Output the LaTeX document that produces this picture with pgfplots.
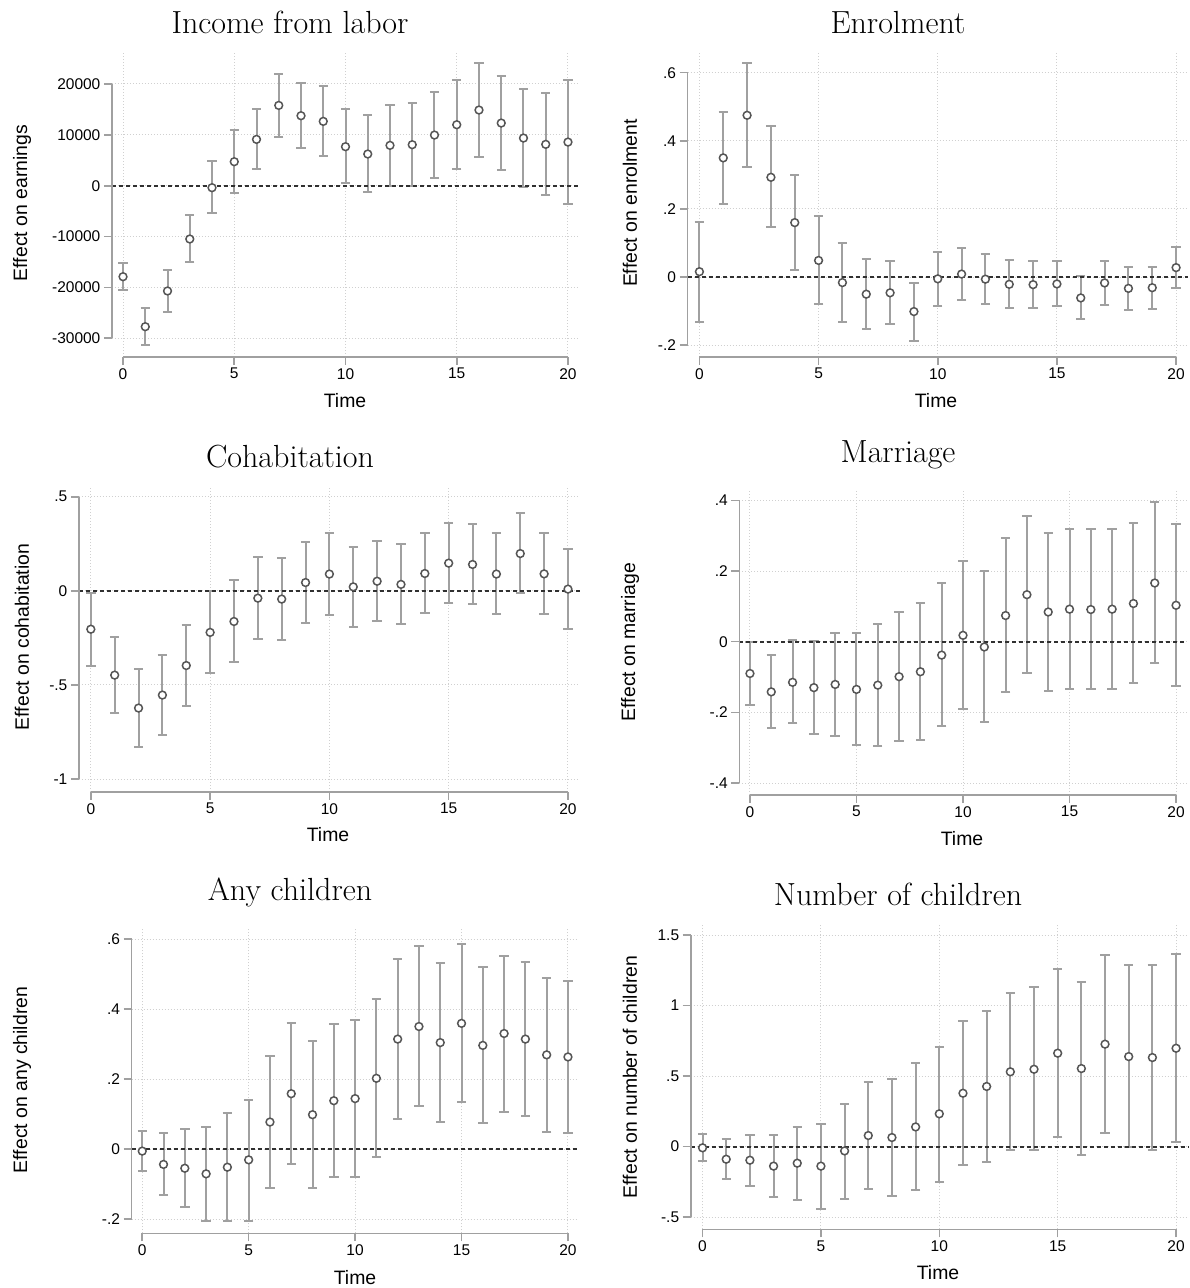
\documentclass[border=0pt]{standalone}
\usepackage{pgfplots}
\pgfplotsset{compat=1.18}
\usepackage{pgfplotstable}
\usepackage{fontspec}
\newfontfamily\sansf{Liberation Sans}
\definecolor{barc}{HTML}{A0A0A0}
\definecolor{mkc}{HTML}{555555}
\definecolor{axc}{HTML}{A0A0A0}
\definecolor{gridc}{HTML}{D0D0D0}
\definecolor{zc}{HTML}{303030}

\pgfplotstableread{
t b lo hi
0 -17890 -20450 -15200
1 -27720 -31320 -24100
2 -20700 -24900 -16500
3 -10480 -15070 -5700
4 -390 -5440 4780
5 4720 -1500 10940
6 9110 3340 15010
7 15790 9630 21950
8 13760 7340 20250
9 12650 5830 19590
10 7670 460 15010
11 6230 -1250 13830
12 7930 0 15920
13 8060 0 16250
14 9960 1570 18410
15 11990 3340 20770
16 14880 5700 24180
17 12320 3080 21630
18 9370 -200 18940
19 8130 -1770 18150
20 8580 -3670 20840
}\tabA

\pgfplotstableread{
t b lo hi
0 0.016 -0.132 0.162
1 0.350 0.214 0.485
2 0.475 0.322 0.629
3 0.293 0.146 0.443
4 0.160 0.021 0.300
5 0.049 -0.080 0.179
6 -0.016 -0.131 0.101
7 -0.050 -0.153 0.054
8 -0.046 -0.138 0.048
9 -0.101 -0.186 -0.016
10 -0.005 -0.085 0.075
11 0.009 -0.067 0.085
12 -0.006 -0.078 0.069
13 -0.021 -0.090 0.051
14 -0.022 -0.090 0.046
15 -0.020 -0.085 0.048
16 -0.061 -0.124 0.004
17 -0.017 -0.081 0.048
18 -0.033 -0.095 0.030
19 -0.031 -0.093 0.031
20 0.028 -0.032 0.089
}\tabB

\pgfplotstableread{
t b lo hi
0 -0.204 -0.397 -0.011
1 -0.448 -0.648 -0.244
2 -0.623 -0.832 -0.414
3 -0.554 -0.767 -0.340
4 -0.397 -0.613 -0.181
5 -0.221 -0.439 -0.002
6 -0.163 -0.379 0.057
7 -0.039 -0.255 0.179
8 -0.044 -0.260 0.172
9 0.044 -0.172 0.262
10 0.089 -0.126 0.306
11 0.021 -0.193 0.234
12 0.051 -0.161 0.264
13 0.034 -0.177 0.248
14 0.092 -0.119 0.308
15 0.147 -0.064 0.361
16 0.140 -0.071 0.354
17 0.089 -0.122 0.305
18 0.198 -0.014 0.413
19 0.090 -0.122 0.306
20 0.009 -0.205 0.223
}\tabC

\pgfplotstableread{
t b lo hi
0 -0.090 -0.180 0.000
1 -0.142 -0.244 -0.039
2 -0.115 -0.231 0.004
3 -0.130 -0.261 0.001
4 -0.121 -0.266 0.025
5 -0.135 -0.293 0.025
6 -0.123 -0.295 0.049
7 -0.099 -0.282 0.085
8 -0.085 -0.277 0.109
9 -0.038 -0.239 0.165
10 0.018 -0.191 0.228
11 -0.015 -0.228 0.200
12 0.074 -0.143 0.292
13 0.133 -0.088 0.356
14 0.084 -0.139 0.308
15 0.092 -0.133 0.318
16 0.091 -0.135 0.318
17 0.092 -0.135 0.320
18 0.108 -0.118 0.337
19 0.166 -0.060 0.395
20 0.103 -0.125 0.332
}\tabD

\pgfplotstableread{
t b lo hi
0 -0.006 -0.064 0.051
1 -0.044 -0.131 0.045
2 -0.055 -0.167 0.057
3 -0.071 -0.206 0.064
4 -0.052 -0.206 0.104
5 -0.031 -0.205 0.140
6 0.077 -0.110 0.266
7 0.158 -0.042 0.359
8 0.098 -0.112 0.310
9 0.138 -0.079 0.357
10 0.144 -0.079 0.369
11 0.202 -0.024 0.430
12 0.314 0.086 0.542
13 0.350 0.122 0.579
14 0.304 0.077 0.531
15 0.359 0.133 0.585
16 0.296 0.073 0.521
17 0.330 0.106 0.552
18 0.314 0.093 0.535
19 0.269 0.050 0.489
20 0.263 0.046 0.481
}\tabE

\pgfplotstableread{
t b lo hi
0 -0.009 -0.102 0.087
1 -0.090 -0.229 0.050
2 -0.097 -0.277 0.083
3 -0.139 -0.359 0.080
4 -0.118 -0.376 0.142
5 -0.139 -0.440 0.163
6 -0.031 -0.371 0.305
7 0.078 -0.298 0.456
8 0.064 -0.348 0.480
9 0.139 -0.305 0.589
10 0.232 -0.248 0.709
11 0.378 -0.128 0.889
12 0.426 -0.109 0.960
13 0.530 -0.026 1.092
14 0.548 -0.028 1.130
15 0.662 0.069 1.260
16 0.553 -0.061 1.168
17 0.726 0.099 1.357
18 0.638 -0.002 1.284
19 0.631 -0.024 1.288
20 0.697 0.033 1.362
}\tabF

\pgfplotsset{
  panel/.style={
    scale only axis, anchor=south west,
    xmin=-0.5, xmax=20.5,
    axis lines*=left, axis line style={draw=none},
    tick align=outside, major tick length=8pt,
    tick style={draw=axc, line width=1.6pt},
    xtick={0,5,10,15,20},
    xticklabels={0,5,10,15,20},
    scaled y ticks=false, scaled x ticks=false,
    grid=major,
    major grid style={draw=gridc, line width=1pt, dash pattern=on 1pt off 2pt},
    ticklabel style={font=\sansf\fontsize{15.5}{18}\selectfont, text=black},
    clip=false,
  }
}

% #1 table, #2 lowest tick, #3 highest tick, #4 ymin
\newcommand\drawpanel[4]{%
  \addplot[only marks, mark=none, forget plot,
    error bars/.cd, y dir=both, y explicit,
    error bar style={draw=barc, line width=2pt},
    error mark options={draw=barc, line width=2pt, mark size=4.7pt, rotate=90}]
    table[x=t, y=b, y error plus expr=\thisrow{hi}-\thisrow{b},
          y error minus expr=\thisrow{b}-\thisrow{lo}] {#1};
  \addplot[forget plot, draw=zc, line width=2pt, dash pattern=on 4pt off 3pt]
    coordinates {(-0.5,0) (20.5,0)};
  \addplot[only marks, mark=*, mark size=3.9pt,
    mark options={draw=mkc, fill=white, line width=1.5pt}]
    table[x=t, y=b] {#1};
  \draw[axc, line width=1.6pt] (axis cs:-0.5,#2) -- (axis cs:-0.5,#3);
  \draw[axc, line width=1.6pt] (axis cs:0,#4) -- (axis cs:20,#4);
}

\begin{document}
\begin{tikzpicture}
\useasboundingbox (0,0) rectangle (1189pt,-1288pt);

% Panel 1
\begin{axis}[panel, at={(111.9pt,-356.7pt)}, width=467.2pt, height=305pt,
  ymin=-33622, ymax=26347,
  ytick={-30000,-20000,-10000,0,10000,20000},
  yticklabels={-30000,-20000,-10000,0,10000,20000}]
\drawpanel{\tabA}{-30000}{20000}{-33622}
\end{axis}

% Panel 2
\begin{axis}[panel, at={(687.5pt,-356.7pt)}, width=500.5pt, height=304.9pt,
  ymin=-0.2335, ymax=0.6613,
  ytick={-0.2,0,0.2,0.4,0.6},
  yticklabels={-.2,0,.2,.4,.6}]
\drawpanel{\tabB}{-0.2}{0.6}{-0.2335}
\end{axis}

% Panel 3
\begin{axis}[panel, at={(78.9pt,-791.7pt)}, width=501pt, height=306pt,
  ymin=-1.0675, ymax=0.5585,
  ytick={-1,-0.5,0,0.5},
  yticklabels={-1,-.5,0,.5}]
\drawpanel{\tabC}{-1}{0.5}{-1.0675}
\end{axis}

% Panel 4
\begin{axis}[panel, at={(739.3pt,-794.7pt)}, width=447.4pt, height=305.4pt,
  ymin=-0.433, ymax=0.4312,
  ytick={-0.4,-0.2,0,0.2,0.4},
  yticklabels={-.4,-.2,0,.2,.4}]
\drawpanel{\tabD}{-0.4}{0.4}{-0.433}
\end{axis}

% Panel 5
\begin{axis}[panel, at={(131.6pt,-1233.3pt)}, width=447pt, height=305.3pt,
  ymin=-0.2409, ymax=0.6314,
  ytick={-0.2,0,0.2,0.4,0.6},
  yticklabels={-.2,0,.2,.4,.6}]
\drawpanel{\tabE}{-0.2}{0.6}{-0.2409}
\end{axis}

% Panel 6
\begin{axis}[panel, at={(690.7pt,-1229.3pt)}, width=497.2pt, height=305.3pt,
  ymin=-0.587, ymax=1.578,
  ytick={-0.5,0,0.5,1,1.5},
  yticklabels={-.5,0,.5,1,1.5}]
\drawpanel{\tabF}{-0.5}{1.5}{-0.587}
\end{axis}

% Titles
\tikzset{ttl/.style={anchor=base, font=\fontsize{32}{38}\selectfont},
  ylab/.style={rotate=90, font=\sansf\fontsize{19.4}{22}\selectfont},
  xlab/.style={anchor=base, font=\sansf\fontsize{19.4}{22}\selectfont}}
\node[ttl] at (290pt,-33.3pt) {Income from labor};
\node[ttl] at (898pt,-33.3pt) {Enrolment};
\node[ttl] at (290pt,-467pt) {Cohabitation};
\node[ttl] at (898pt,-462pt) {Marriage};
\node[ttl] at (290pt,-900pt) {Any children};
\node[ttl] at (898pt,-905pt) {Number of children};

% y labels
\node[ylab] at (22pt,-203pt) {Effect on earnings};
\node[ylab] at (630pt,-203pt) {Effect on enrolment};
\node[ylab] at (22pt,-637pt) {Effect on cohabitation};
\node[ylab] at (630pt,-642pt) {Effect on marriage};
\node[ylab] at (22pt,-1080pt) {Effect on any children};
\node[ylab] at (630pt,-1077pt) {Effect on number of children};

% x labels
\node[xlab] at (345pt,-407pt) {Time};
\node[xlab] at (936pt,-407pt) {Time};
\node[xlab] at (328pt,-841pt) {Time};
\node[xlab] at (962pt,-845pt) {Time};
\node[xlab] at (355pt,-1284pt) {Time};
\node[xlab] at (938pt,-1279pt) {Time};
\end{tikzpicture}
\end{document}
